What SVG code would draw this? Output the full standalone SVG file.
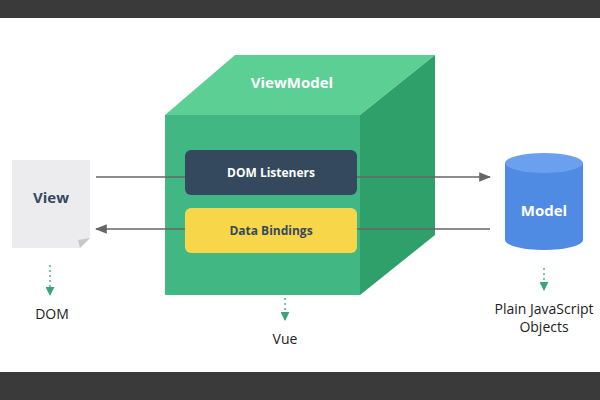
<svg xmlns="http://www.w3.org/2000/svg" width="600" height="400" viewBox="0 0 600 400">
<style>
.lbl{font-family:"Open Sans","Liberation Sans",sans-serif;font-size:14px;fill:#222;text-anchor:middle}
.b{font-family:"Open Sans","Liberation Sans",sans-serif;font-weight:bold;text-anchor:middle}
.ln{stroke:#666;stroke-width:1.5;fill:none}
.dot{stroke:#4caf8a;stroke-width:1.5;stroke-dasharray:2 3;fill:none}
</style>
<defs>
<marker id="ah" viewBox="0 0 10 10" refX="9" refY="5" markerWidth="8" markerHeight="8" orient="auto-start-reverse"><path d="M0,1 L10,5 L0,9 z" fill="#666"/></marker>
<marker id="gh" viewBox="0 0 10 10" refX="9" refY="5" markerWidth="6" markerHeight="6" orient="auto"><path d="M0,0 L10,5 L0,10 z" fill="#3aa57a"/></marker>
</defs>
<rect width="600" height="400" fill="#fff"/>
<rect width="600" height="18" fill="#3a3a3a"/>
<rect y="372" width="600" height="28" fill="#3a3a3a"/>
<g id="viewmodel">
<polygon points="165,115 235,55 435,55 360,115" fill="#5ccf94"/>
<polygon points="360,115 435,55 435,235 360,295" fill="#2fa069"/>
<rect x="165" y="115" width="195" height="180" fill="#41b883"/>
<text x="292" y="88" class="b" font-size="15" fill="#fff">ViewModel</text>
</g>
<g id="dom-listeners">
<rect x="185" y="150" width="172" height="45" rx="6" fill="#35495e"/>
<text x="271" y="177" class="b" font-size="12" fill="#fff">DOM Listeners</text>
</g>
<g id="data-bindings">
<rect x="185" y="208" width="172" height="45" rx="6" fill="#f8d64a"/>
<text x="271" y="235" class="b" font-size="12" fill="#35495e">Data Bindings</text>
</g>
<g id="view">
<path d="M12,160 H90 V238 L80,248 H12 Z" fill="#ececee"/>
<path d="M90,238 L80,248 L78,240 Z" fill="#c8c8cc"/>
<text x="51" y="203" class="b" font-size="15" fill="#35495e">View</text>
</g>
<g id="model">
<path d="M505,163 V240 A39,10 0 0 0 583,240 V163 Z" fill="#4f8be3"/>
<ellipse cx="544" cy="163" rx="39" ry="10" fill="#6aa0ee"/>
<text x="544" y="216" class="b" font-size="15" fill="#fff">Model</text>
</g>
<g id="connectors">
<line x1="96" y1="177" x2="185" y2="177" class="ln"/>
<line x1="357" y1="177" x2="490" y2="177" class="ln" marker-end="url(#ah)"/>
<line x1="490" y1="229" x2="357" y2="229" class="ln"/>
<line x1="185" y1="229" x2="96" y2="229" class="ln" marker-end="url(#ah)"/>
<line x1="50" y1="265" x2="50" y2="295" class="dot" marker-end="url(#gh)"/>
<line x1="285" y1="298" x2="285" y2="320" class="dot" marker-end="url(#gh)"/>
<line x1="544" y1="268" x2="544" y2="290" class="dot" marker-end="url(#gh)"/>
</g>
<text x="52" y="319" class="lbl">DOM</text>
<text x="285" y="344" class="lbl">Vue</text>
<text x="544" y="314" class="lbl">Plain JavaScript</text>
<text x="544" y="332" class="lbl">Objects</text>
</svg>
